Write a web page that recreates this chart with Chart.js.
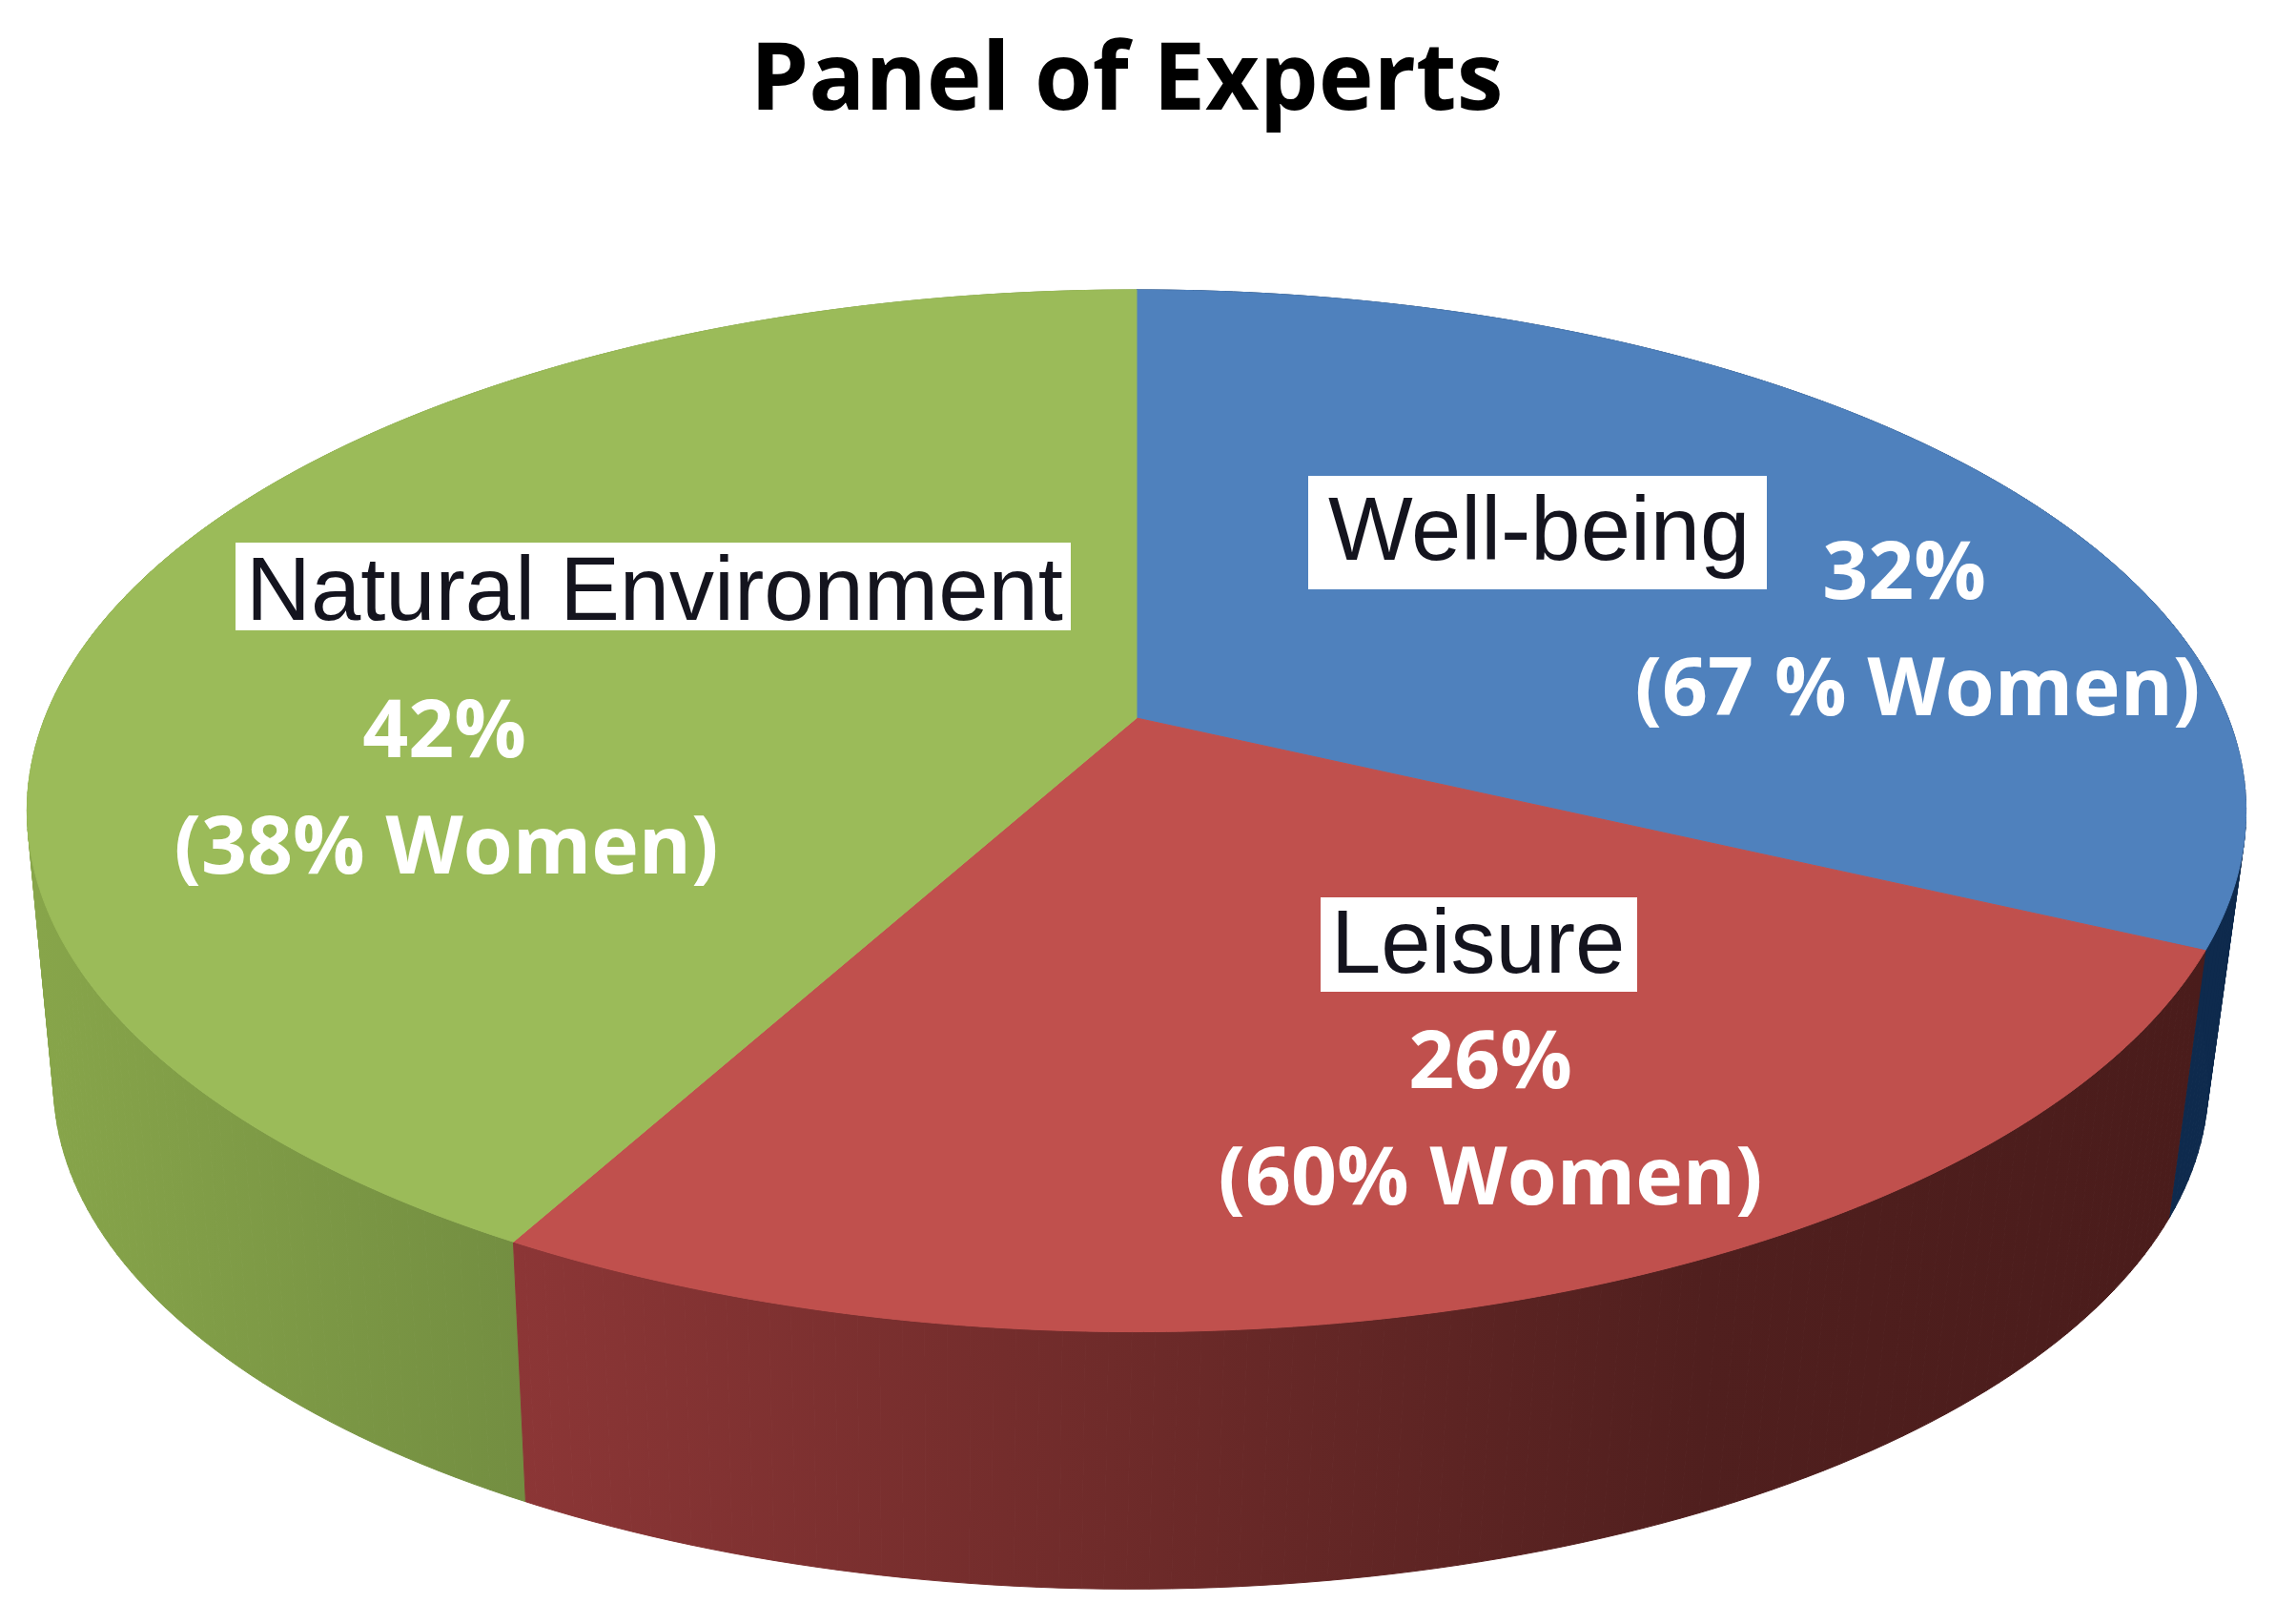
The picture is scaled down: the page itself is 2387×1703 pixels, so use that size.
<!DOCTYPE html>
<html>
<head>
<meta charset="utf-8">
<title>Panel of Experts</title>
<script src="https://cdn.jsdelivr.net/npm/chart.js@4"></script>
<style>
  html, body { margin: 0; padding: 0; background: #fff; }
  canvas { display: block; }
</style>
</head>
<body>
<canvas id="chart" width="2387" height="1703"></canvas>
<script>
// Data
const categories = ["Well-being", "Leisure", "Natural Environment"];
const shares = [32, 26, 42];
const womenLabels = ["(67 % Women)", "(60% Women)", "(38% Women)"];
const faceColors = ["#4f81bd", "#c0504d", "#9bbb59"];

// Perspective of the top face: unit circle -> screen
const cx = 1192, apexY = 753;
const spanX = 1145, spanY = 529, tilt = -0.178;
// The bottom face is the top face shrunk towards a far point below
const shrink = 0.971, farY = 10700, bottomShift = -6;

function topPoint(angle) {
  const u = Math.cos(angle), v = Math.sin(angle);
  const w = 1 + tilt * v;
  return [cx + spanX * u / w, apexY + spanY * v / w];
}

function bottomPoint(angle) {
  const p = topPoint(angle);
  return [cx + bottomShift + shrink * (p[0] - cx), farY + shrink * (p[1] - farY)];
}

function wallStyle(ctx, i) {
  if (i === 0) return "#0e2a4d";
  if (i === 1) {
    const g = ctx.createLinearGradient(540, 0, 2320, 0);
    g.addColorStop(0, "#8c3636");
    g.addColorStop(0.35, "#6f2b2a");
    g.addColorStop(0.7, "#501f1e");
    g.addColorStop(1, "#4a1c1b");
    return g;
  }
  const g = ctx.createLinearGradient(40, 0, 550, 0);
  g.addColorStop(0, "#87a54a");
  g.addColorStop(1, "#738e41");
  return g;
}

// Slices take their angles from the chart's arc elements
const pie3d = {
  id: "pie3d",
  beforeDatasetsDraw(chart) {
    const ctx = chart.ctx;
    const arcs = chart.getDatasetMeta(0).data;
    const step = Math.PI / 180;

    ctx.save();
    // side walls
    [0, 2, 1].forEach(function (i) {
      const style = wallStyle(ctx, i);
      ctx.fillStyle = style;
      ctx.strokeStyle = style;
      ctx.lineWidth = 1;
      for (let a = arcs[i].startAngle; a < arcs[i].endAngle; a += step) {
        const b = Math.min(a + step, arcs[i].endAngle);
        const p1 = topPoint(a), p2 = topPoint(b), p3 = bottomPoint(b), p4 = bottomPoint(a);
        ctx.beginPath();
        ctx.moveTo(p1[0], p1[1]);
        ctx.lineTo(p2[0], p2[1]);
        ctx.lineTo(p3[0], p3[1]);
        ctx.lineTo(p4[0], p4[1]);
        ctx.closePath();
        ctx.fill();
        ctx.stroke();
      }
    });
    // top faces
    arcs.forEach(function (arc, i) {
      ctx.beginPath();
      ctx.moveTo(cx, apexY);
      for (let a = arc.startAngle; a < arc.endAngle; a += step / 2) {
        const p = topPoint(a);
        ctx.lineTo(p[0], p[1]);
      }
      const end = topPoint(arc.endAngle);
      ctx.lineTo(end[0], end[1]);
      ctx.closePath();
      ctx.fillStyle = faceColors[i];
      ctx.strokeStyle = faceColors[i];
      ctx.lineWidth = 1;
      ctx.fill();
      ctx.stroke();
    });
    ctx.restore();
    return false;
  },
  afterDraw(chart) {
    const ctx = chart.ctx;
    // box left/top/width/height, name x/baseline, share and women centre x and baselines
    const spots = [
      { box: [1372, 499, 481, 119], name: [1393, 587], x: [1997, 2011], y: [628, 750] },
      { box: [1385, 941, 332, 99], name: [1396, 1020], x: [1563, 1563], y: [1141, 1263] },
      { box: [247, 569, 876, 92], name: [258, 650], x: [466, 468], y: [794, 916] }
    ];
    ctx.save();
    categories.forEach(function (name, i) {
      const s = spots[i];
      ctx.fillStyle = "#fff";
      ctx.fillRect(s.box[0], s.box[1], s.box[2], s.box[3]);
      ctx.fillStyle = "#14141e";
      ctx.font = '94px "Liberation Sans"';
      ctx.textAlign = "left";
      ctx.textBaseline = "alphabetic";
      ctx.fillText(name, s.name[0], s.name[1]);
      ctx.fillStyle = "#fff";
      ctx.font = 'bold 84px "Open Sans"';
      ctx.textAlign = "center";
      ctx.fillText(shares[i] + "%", s.x[0], s.y[0]);
      ctx.fillText(womenLabels[i], s.x[1], s.y[1]);
    });
    ctx.restore();
  }
};

new Chart(document.getElementById("chart"), {
  type: "pie",
  data: {
    labels: categories,
    datasets: [{ data: shares, backgroundColor: faceColors, borderWidth: 0 }]
  },
  options: {
    responsive: false,
    animation: false,
    devicePixelRatio: 1,
    layout: { padding: { right: 24 } },
    plugins: {
      legend: { display: false },
      tooltip: { enabled: false },
      title: {
        display: true,
        text: "Panel of Experts",
        fullSize: false,
        color: "#000",
        font: { family: '"Open Sans"', size: 98, weight: "bold" },
        padding: { top: 28, bottom: 20 }
      }
    }
  },
  plugins: [pie3d]
});
</script>
</body>
</html>
